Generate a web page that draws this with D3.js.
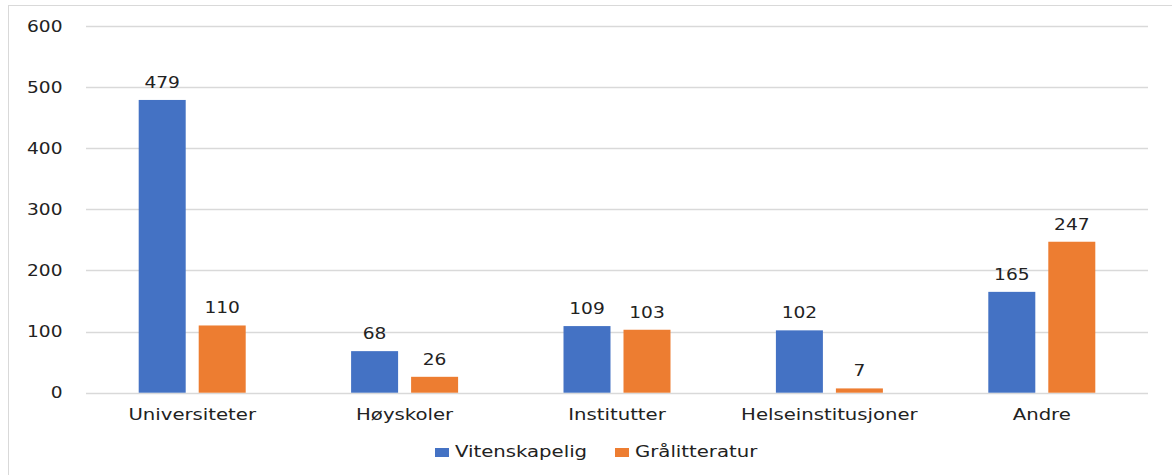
<!DOCTYPE html>
<html><head><meta charset="utf-8">
<script src="https://cdn.jsdelivr.net/npm/d3@7"></script>
<style>body{margin:0;background:#fff}svg{display:block}</style>
</head><body><svg id="c" width="1172" height="475"></svg>
<script>
const categories = ["Universiteter","Høyskoler","Institutter","Helseinstitusjoner","Andre"];
const seriesNames = ["Vitenskapelig","Grålitteratur"];
const vitenskapelig = [479,68,109,102,165];
const graalitteratur = [110,26,103,7,247];
const yTicks = [0,100,200,300,400,500,600];
const colors = ["#4472C4","#ED7D31"];

const svg = d3.select("#c");
const font = "DejaVu Sans";
const txt = "#222";
svg.append("rect").attr("x",8.5).attr("y",5.5).attr("width",1172).attr("height",480)
  .attr("fill","none").attr("stroke","#d9d9d9").attr("stroke-width",1);

const pLeft=86, pRight=1148, pTop=26, pBottom=392.7;
const x = d3.scaleBand().domain(categories).range([pLeft,pRight]);
const y = d3.scaleLinear().domain([0,600]).range([pBottom,pTop]);
const bw = x.bandwidth();
const sub = d3.scaleBand().domain(seriesNames).range([bw/2-53.5, bw/2+53.5]).paddingInner(13/60);

svg.append("g").selectAll("line").data(yTicks).join("line")
  .attr("x1",pLeft).attr("x2",pRight).attr("y1",d=>Math.round(y(d))+0.5).attr("y2",d=>Math.round(y(d))+0.5)
  .attr("stroke","#d9d9d9").attr("stroke-width",1.3);

function stext(g,xx,yy,t,anchor,size,sx){
  return g.append("text").attr("transform",`translate(${xx},${yy}) scale(${sx},1)`)
    .attr("text-anchor",anchor).attr("font-family",font).attr("font-size",size).attr("fill",txt).text(t);
}
const ax = svg.append("g");
yTicks.forEach(t=>stext(ax,62.5,y(t)+5.5,t,"end",15.5,1.2));
categories.forEach(c=>stext(ax,x(c)+bw/2,420,c,"middle",16,1.23));

const data = [vitenskapelig, graalitteratur];
seriesNames.forEach((s,si)=>{
  const g = svg.append("g");
  categories.forEach((c,ci)=>{
    const v = data[si][ci];
    const bx = x(c)+sub(s);
    g.append("rect").attr("x",bx).attr("y",y(v)).attr("width",sub.bandwidth()).attr("height",y(0)-y(v)).attr("fill",colors[si]);
    stext(g,bx+sub.bandwidth()/2,y(v)-12,v,"middle",15.5,1.2);
  });
});

const leg = svg.append("g");
const lx=[435,615];
seriesNames.forEach((s,i)=>{
  leg.append("rect").attr("x",lx[i]).attr("y",448).attr("width",14).attr("height",9).attr("fill",colors[i]);
  stext(leg,lx[i]+20,456.7,s,"start",16,1.23);
});
</script></body></html>
